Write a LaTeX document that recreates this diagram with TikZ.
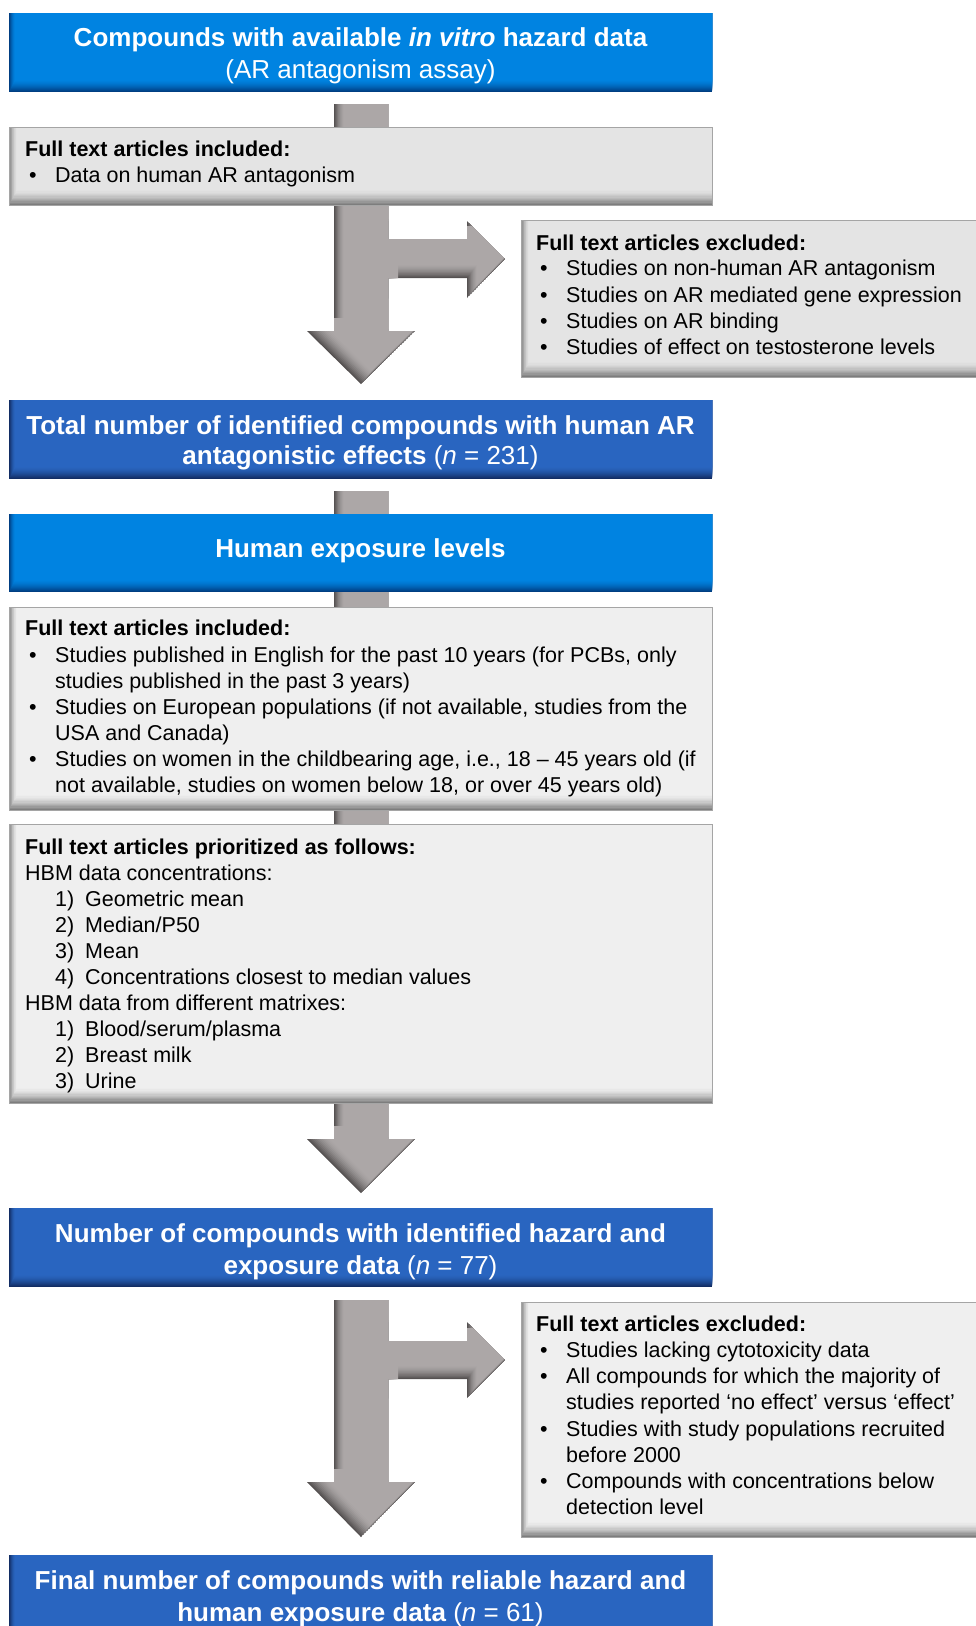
\documentclass[tikz,border=0pt]{standalone}
\usepackage{fontspec}
\setmainfont{Liberation Sans}
\definecolor{bblue}{RGB}{0,131,225}
\definecolor{bbluedk}{RGB}{0,62,130}
\definecolor{dblue}{RGB}{41,101,192}
\definecolor{dbluedk}{RGB}{18,45,100}
\definecolor{gbox}{RGB}{239,239,239}
\definecolor{gboxb}{RGB}{228,228,228}
\definecolor{gboxdk}{RGB}{125,125,125}
\definecolor{gedge}{RGB}{165,165,165}
\definecolor{arr}{RGB}{172,167,167}
\definecolor{arrdk}{RGB}{85,81,81}
% bevelled fill: #1 path, #2 base colour, #3 dark colour, #4 #5 shift (right, up)
\newcommand\bvl[5]{%
  \begin{scope}
    \clip #1;
    \fill[#3] #1;
    \foreach \i in {1,...,12}{%
      \pgfmathsetmacro\t{\i/12}%
      \pgfmathtruncatemacro\m{round(100*(1-\t)^1.6)}%
      \begin{scope}[shift={(\t*#4,-\t*#5)}]\fill[#3!\m!#2] #1;\end{scope}}
  \end{scope}}
\newcommand\blt{\makebox[26pt][l]{•}}
\newcommand\num[1]{\makebox[30pt][l]{#1}}
\begin{document}
\begin{tikzpicture}[x=1pt,y=-1pt,
  hd/.style={anchor=base, text=white, inner sep=0pt, font=\fontsize{26}{30}\selectfont\bfseries},
  bt/.style={anchor=base west, inner sep=0pt, font=\fontsize{21.5}{26}\selectfont},
  btb/.style={bt, font=\fontsize{21.5}{26}\selectfont\bfseries},
  edge/.style={draw=gedge, line width=1pt}]
\useasboundingbox (0,0) rectangle (976,1626);
\fill[white] (0,0) rectangle (976,1626);

% ---------- block arrows (behind boxes)
\bvl{(334,104) -- (388,104) -- (388,239) -- (467,239) -- (467,221) -- (505,259) -- (467,298) -- (467,278) -- (388,278) -- (388,331) -- (415,331) -- (361,384) -- (307,331) -- (334,331) -- cycle}{arr}{arrdk}{10}{13}
\bvl{(334,491) -- (388,491) -- (388,1139) -- (415,1139) -- (361,1193) -- (307,1139) -- (334,1139) -- cycle}{arr}{arrdk}{10}{13}
\bvl{(334,1300) -- (388,1300) -- (388,1341) -- (467,1341) -- (467,1322) -- (505,1360) -- (467,1398) -- (467,1379) -- (388,1379) -- (388,1482) -- (415,1482) -- (361,1537) -- (307,1482) -- (334,1482) -- cycle}{arr}{arrdk}{10}{13}

% ---------- box 1
\bvl{(9,13) rectangle (712,92)}{bblue}{bbluedk}{6}{12}
\node[hd] (b1a) at (360.5,46) {Compounds with available \textit{in vitro} hazard data};
\node[hd, font=\fontsize{26}{30}\selectfont] (b1b) at (360.5,78) {(AR antagonism assay)};

% ---------- included 1
\bvl{(9,127) rectangle (712,205)}{gboxb}{gboxdk}{8}{15}
\draw[edge] (9,127) rectangle (712,205);
\node[btb] (i1t) at (25,156.5) {Full text articles included:};
\node[bt] (i1a) at (29,182.5) {\blt Data on human AR antagonism};

% ---------- excluded 1
\bvl{(521,220) rectangle (990,377)}{gboxb}{gboxdk}{8}{15}
\draw[edge] (990,220) -- (521,220) -- (521,377) -- (990,377);
\node[btb] (x1t) at (536,250) {Full text articles excluded:};
\node[bt] (x1a) at (540,275.5) {\blt Studies on non-human AR antagonism};
\node[bt] (x1b) at (540,302) {\blt Studies on AR mediated gene expression};
\node[bt] (x1c) at (540,328.5) {\blt Studies on AR binding};
\node[bt] (x1d) at (540,354.5) {\blt Studies of effect on testosterone levels};

% ---------- total
\bvl{(9,400) rectangle (712,479)}{dblue}{dbluedk}{6}{12}
\node[hd] (b3a) at (360.5,434) {Total number of identified compounds with human AR};
\node[hd] (b3b) at (360.5,464) {antagonistic effects {\mdseries(\textit{n} = 231)}};

% ---------- human exposure
\bvl{(9,514) rectangle (712,592)}{bblue}{bbluedk}{6}{12}
\node[hd] (b4) at (360.5,557) {Human exposure levels};

% ---------- included 2
\bvl{(9,607) rectangle (712,810)}{gbox}{gboxdk}{8}{15}
\draw[edge] (9,607) rectangle (712,810);
\node[btb] (i2t) at (25,635.5) {Full text articles included:};
\node[bt] (i2a) at (29,662.5) {\blt Studies published in English for the past 10 years (for PCBs, only};
\node[bt] (i2b) at (55,688.5) {studies published in the past 3 years)};
\node[bt] (i2c) at (29,714.5) {\blt Studies on European populations (if not available, studies from the};
\node[bt] (i2d) at (55,740.5) {USA and Canada)};
\node[bt] (i2e) at (29,766.5) {\blt Studies on women in the childbearing age, i.e., 18 – 45 years old (if};
\node[bt] (i2f) at (55,792.5) {not available, studies on women below 18, or over 45 years old)};

% ---------- prioritized
\bvl{(9,824) rectangle (712,1103)}{gbox}{gboxdk}{8}{15}
\draw[edge] (9,824) rectangle (712,1103);
\node[btb] (pt) at (25,854.5) {Full text articles prioritized as follows:};
\node[bt] (pa) at (25,880.5) {HBM data concentrations:};
\node[bt] (pa1) at (55,906.5) {\num{1)}Geometric mean};
\node[bt] (pa2) at (55,932.5) {\num{2)}Median/P50};
\node[bt] (pa3) at (55,958.5) {\num{3)}Mean};
\node[bt] (pa4) at (55,984.5) {\num{4)}Concentrations closest to median values};
\node[bt] (pb) at (25,1010.5) {HBM data from different matrixes:};
\node[bt] (pb1) at (55,1036.5) {\num{1)}Blood/serum/plasma};
\node[bt] (pb2) at (55,1062.5) {\num{2)}Breast milk};
\node[bt] (pb3) at (55,1088.5) {\num{3)}Urine};

% ---------- number of compounds
\bvl{(9,1208) rectangle (712,1287)}{dblue}{dbluedk}{6}{12}
\node[hd] (b5a) at (360.5,1242) {Number of compounds with identified hazard and};
\node[hd] (b5b) at (360.5,1274) {exposure data {\mdseries(\textit{n} = 77)}};

% ---------- excluded 2
\bvl{(521,1302) rectangle (990,1537)}{gbox}{gboxdk}{8}{15}
\draw[edge] (990,1302) -- (521,1302) -- (521,1537) -- (990,1537);
\node[btb] (x2t) at (536,1331.5) {Full text articles excluded:};
\node[bt] (x2a) at (540,1357.5) {\blt Studies lacking cytotoxicity data};
\node[bt] (x2b) at (540,1383.5) {\blt All compounds for which the majority of};
\node[bt] (x2c) at (566,1409.5) {studies reported ‘no effect’ versus ‘effect’};
\node[bt] (x2d) at (540,1436.5) {\blt Studies with study populations recruited};
\node[bt] (x2e) at (566,1462.5) {before 2000};
\node[bt] (x2f) at (540,1488.5) {\blt Compounds with concentrations below};
\node[bt] (x2g) at (566,1514.5) {detection level};

% ---------- final
\bvl{(9,1555) rectangle (712,1650)}{dblue}{dbluedk}{6}{12}
\node[hd] (b6a) at (360.5,1589) {Final number of compounds with reliable hazard and};
\node[hd] (b6b) at (360.5,1621) {human exposure data {\mdseries(\textit{n} = 61)}};
\end{tikzpicture}
\end{document}
